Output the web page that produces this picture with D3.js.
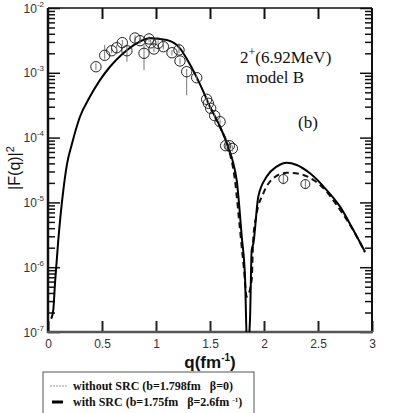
<!DOCTYPE html>
<html>
<head>
<meta charset="utf-8">
<script src="https://cdn.jsdelivr.net/npm/d3@7"></script>
<style>
  body { margin: 0; background: #fff; }
  svg { display: block; }
</style>
</head>
<body>
<svg id="chart"></svg>
<script>
// with SRC (solid)
const solidQ = [0.03, 0.049, 0.065, 0.095, 0.142, 0.176, 0.219, 0.296, 0.389, 0.481, 0.574, 0.697, 0.821, 0.944, 1.099, 1.222, 1.315, 1.407, 1.5, 1.593, 1.669, 1.716, 1.747, 1.794, 1.824, 1.845, 1.87, 1.886, 1.901, 1.947, 2.025, 2.117, 2.21, 2.303, 2.426, 2.58, 2.704, 2.827, 2.935];
const solidF = [1.6e-7, 2.2e-7, 5.7e-7, 2.6e-6, 1.55e-5, 3.9e-5, 7.7e-5, 2.1e-4, 4.3e-4, 7.7e-4, 1.24e-3, 2.0e-3, 2.85e-3, 3.4e-3, 3.2e-3, 2.39e-3, 1.34e-3, 6.7e-4, 3.0e-4, 1.47e-4, 7.2e-5, 4.0e-5, 2.2e-5, 2.96e-6, 7.1e-7, 5e-8, 1.5e-7, 1.84e-6, 2.3e-6, 1.22e-5, 2.5e-5, 3.56e-5, 4.1e-5, 3.78e-5, 2.81e-5, 1.55e-5, 8.6e-6, 3.75e-6, 1.73e-6];

// without SRC (dashed)
const dashQ = [1.5, 1.593, 1.669, 1.731, 1.778, 1.815, 1.84, 1.886, 1.9, 1.93, 1.994, 2.086, 2.21, 2.333, 2.457, 2.58, 2.673, 2.827, 2.935];
const dashF = [2.95e-4, 1.44e-4, 7.0e-5, 2.2e-5, 3.75e-6, 9.1e-7, 3.5e-7, 6.3e-7, 2.63e-6, 6.4e-6, 1.38e-5, 2.36e-5, 2.87e-5, 2.74e-5, 2.22e-5, 1.46e-5, 9.1e-6, 3.7e-6, 1.7e-6];

// experimental points
const expQ = [0.444, 0.525, 0.59, 0.636, 0.688, 0.731, 0.806, 0.852, 0.889, 0.935, 0.951, 0.981, 1.019, 1.068, 1.148, 1.213, 1.222, 1.284, 1.377, 1.469, 1.485, 1.506, 1.543, 1.593, 1.645, 1.679, 1.707, 2.179, 2.383];
const expF = [1.24e-3, 1.86e-3, 2.19e-3, 2.44e-3, 2.92e-3, 2.19e-3, 3.44e-3, 3.13e-3, 2.0e-3, 3.33e-3, 2.9e-3, 2.33e-3, 2.85e-3, 2.53e-3, 2.04e-3, 2.25e-3, 1.52e-3, 1.04e-3, 8.4e-4, 3.9e-4, 3.38e-4, 2.83e-4, 2.18e-4, 1.76e-4, 7.5e-5, 7.5e-5, 6.8e-5, 2.3e-5, 1.92e-5];
const expLo = [1.1e-3, 1.6e-3, 2.0e-3, 2.2e-3, 2.6e-3, 1.48e-3, 3.1e-3, 2.8e-3, 1.1e-3, 3.0e-3, 2.6e-3, 2.1e-3, 2.55e-3, 2.3e-3, 1.85e-3, 2.0e-3, 1.35e-3, 4.5e-4, 7.6e-4, 3.5e-4, 3.0e-4, 2.55e-4, 1.95e-4, 1.6e-4, 6.7e-5, 6.7e-5, 6.1e-5, 1.9e-5, 1.6e-5];
const expHi = [1.4e-3, 2.7e-3, 2.4e-3, 2.7e-3, 3.2e-3, 2.6e-3, 3.8e-3, 3.45e-3, 2.8e-3, 3.65e-3, 3.2e-3, 2.6e-3, 3.15e-3, 2.8e-3, 2.25e-3, 2.85e-3, 1.7e-3, 1.15e-3, 9.2e-4, 4.3e-4, 3.7e-4, 3.1e-4, 2.4e-4, 1.9e-4, 8.3e-5, 8.3e-5, 7.5e-5, 2.7e-5, 2.25e-5];

const xTicks = [0, 0.5, 1, 1.5, 2, 2.5, 3];
const xTickLabels = ["0", "0.5", "1", "1.5", "2", "2.5", "3"];
const yDecades = [1e-7, 1e-6, 1e-5, 1e-4, 1e-3, 1e-2];
const yExponents = ["-7", "-6", "-5", "-4", "-3", "-2"];

const W = 398, H = 413;
const svg = d3.select("#chart").attr("width", W).attr("height", H);

const x = d3.scaleLinear().domain([0, 3]).range([48, 372]);
const y = d3.scaleLog().domain([1e-7, 1e-2]).range([332, 8]);

const minors = [];
yDecades.slice(0, -1).forEach(d => { for (let k = 2; k <= 9; k++) minors.push(d * k); });

// clip for curves
svg.append("clipPath").attr("id", "plotclip")
  .append("rect").attr("x", 48).attr("y", 8).attr("width", 324).attr("height", 324);

// bottom axis (labels) + inward ticks
const xAxis = svg.append("g")
  .attr("transform", "translate(0,332)")
  .call(d3.axisBottom(x).tickValues(xTicks).tickSize(-11).tickPadding(7)
    .tickFormat((d, i) => xTickLabels[i]));
xAxis.select(".domain").remove();
xAxis.selectAll("line").attr("stroke", "#222").attr("stroke-width", 2);
xAxis.selectAll("text").attr("font-family", "Liberation Sans, Arial, sans-serif")
  .attr("font-size", 12).attr("fill", "#333");

// top axis inward ticks
const xTop = svg.append("g").attr("transform", "translate(0,8)")
  .call(d3.axisTop(x).tickValues(xTicks.slice(1, -1)).tickSize(-11).tickFormat(""));
xTop.select(".domain").remove();
xTop.selectAll("line").attr("stroke", "#111").attr("stroke-width", 2);

// left/right axis: decades and minors
function yTicks(g, side) {
  const mk = side === "left" ? d3.axisLeft : d3.axisRight;
  const a = g.append("g").attr("transform", `translate(${side === "left" ? 48 : 372},0)`)
    .call(mk(y).tickValues(minors).tickSize(-7).tickFormat(""));
  a.select(".domain").remove();
  a.selectAll("line").attr("stroke", "#111").attr("stroke-width", 1.5);
  const b = g.append("g").attr("transform", `translate(${side === "left" ? 48 : 372},0)`)
    .call(mk(y).tickValues(yDecades).tickSize(-12).tickFormat(""));
  b.select(".domain").remove();
  b.selectAll("line").attr("stroke", "#111").attr("stroke-width", 1.5);
}
yTicks(svg, "left");
yTicks(svg, "right");

// y labels
const yl = svg.append("g").attr("font-family", "Liberation Sans, Arial, sans-serif").attr("fill", "#333");
yDecades.forEach((d, i) => {
  const t = yl.append("text").attr("x", 44).attr("y", y(d) + 4.5)
    .attr("text-anchor", "end").attr("font-size", 12);
  t.append("tspan").text("10");
  t.append("tspan").attr("dy", -6).attr("font-size", 8).text(yExponents[i]);
});

// frame
svg.append("line").attr("x1", 48).attr("x2", 372).attr("y1", 8).attr("y2", 8).attr("stroke", "#111").attr("stroke-width", 1.5);
svg.append("line").attr("x1", 372).attr("x2", 372).attr("y1", 8).attr("y2", 332).attr("stroke", "#111").attr("stroke-width", 2);
svg.append("line").attr("x1", 48).attr("x2", 48).attr("y1", 8).attr("y2", 333).attr("stroke", "#111").attr("stroke-width", 2.5);
svg.append("line").attr("x1", 47).attr("x2", 373).attr("y1", 332).attr("y2", 332).attr("stroke", "#555").attr("stroke-width", 2.5);

// curves
const line = d3.line().x(d => x(d[0])).y(d => y(d[1])).curve(d3.curveMonotoneX);
const plot = svg.append("g").attr("clip-path", "url(#plotclip)");
plot.append("path").datum(dashQ.map((q, i) => [q, dashF[i]]))
  .attr("d", line).attr("fill", "none").attr("stroke", "#111")
  .attr("stroke-width", 2).attr("stroke-dasharray", "6,4");
plot.append("path").datum(solidQ.map((q, i) => [q, solidF[i]]))
  .attr("d", line).attr("fill", "none").attr("stroke", "#000").attr("stroke-width", 2);

// data points
const pts = svg.append("g");
expQ.forEach((q, i) => {
  pts.append("line").attr("x1", x(q)).attr("x2", x(q))
    .attr("y1", y(expLo[i])).attr("y2", y(expHi[i]))
    .attr("stroke", "#777").attr("stroke-width", 1);
  pts.append("circle").attr("cx", x(q)).attr("cy", y(expF[i]))
    .attr("r", q > 2 ? 4.5 : 5.2).attr("fill", "none").attr("stroke", "#222").attr("stroke-width", 1);
});

// annotations
const ann = svg.append("g").attr("font-family", "Liberation Serif, Times New Roman, serif").attr("fill", "#111");
const t1 = ann.append("text").attr("x", 240).attr("y", 63).attr("font-size", 17);
t1.append("tspan").text("2");
t1.append("tspan").attr("dy", -7).attr("font-size", 12).text("+");
t1.append("tspan").attr("dy", 7).text("(6.92MeV)");
ann.append("text").attr("x", 246).attr("y", 83).attr("font-size", 17).text("model B");
ann.append("text").attr("x", 298).attr("y", 128).attr("font-size", 17).text("(b)");

// axis titles
svg.append("text").attr("transform", "translate(20,168) rotate(-90)")
  .attr("text-anchor", "middle").attr("font-family", "Liberation Sans, Arial, sans-serif")
  .attr("font-size", 16).attr("fill", "#111")
  .call(t => {
    t.append("tspan").text("|F(q)|");
    t.append("tspan").attr("dy", -6).attr("font-size", 11).text("2");
  });
const xt = svg.append("text").attr("x", 210).attr("y", 368).attr("text-anchor", "middle")
  .attr("font-family", "Liberation Sans, Arial, sans-serif").attr("font-size", 17)
  .attr("font-weight", "bold").attr("fill", "#111");
xt.append("tspan").text("q(fm");
xt.append("tspan").attr("dy", -7).attr("font-size", 10).text("-1");
xt.append("tspan").attr("dy", 7).text(")");

// legend
const lg = svg.append("g");
lg.append("rect").attr("x", 43).attr("y", 372).attr("width", 211).attr("height", 45)
  .attr("fill", "#fff").attr("stroke", "#555").attr("stroke-width", 1);
lg.append("line").attr("x1", 50).attr("x2", 68).attr("y1", 386).attr("y2", 386)
  .attr("stroke", "#999").attr("stroke-width", 1).attr("stroke-dasharray", "2,1");
lg.append("line").attr("x1", 52).attr("x2", 63).attr("y1", 402).attr("y2", 402)
  .attr("stroke", "#000").attr("stroke-width", 3);
const lgText = lg.append("g").attr("font-family", "Liberation Serif, Times New Roman, serif")
  .attr("font-size", 12).attr("font-weight", "bold").attr("fill", "#111");
lgText.append("text").attr("x", 73).attr("y", 390).text("without SRC (b=1.798fm\u00a0\u00a0 \u03b2=0)");
const l2 = lgText.append("text").attr("x", 73).attr("y", 406);
l2.append("tspan").text("with SRC (b=1.75fm\u00a0\u00a0 \u03b2=2.6fm ");
l2.append("tspan").attr("dy", -4).attr("font-size", 7).text("-1");
l2.append("tspan").attr("dy", 4).text(")");
</script>
</body>
</html>
